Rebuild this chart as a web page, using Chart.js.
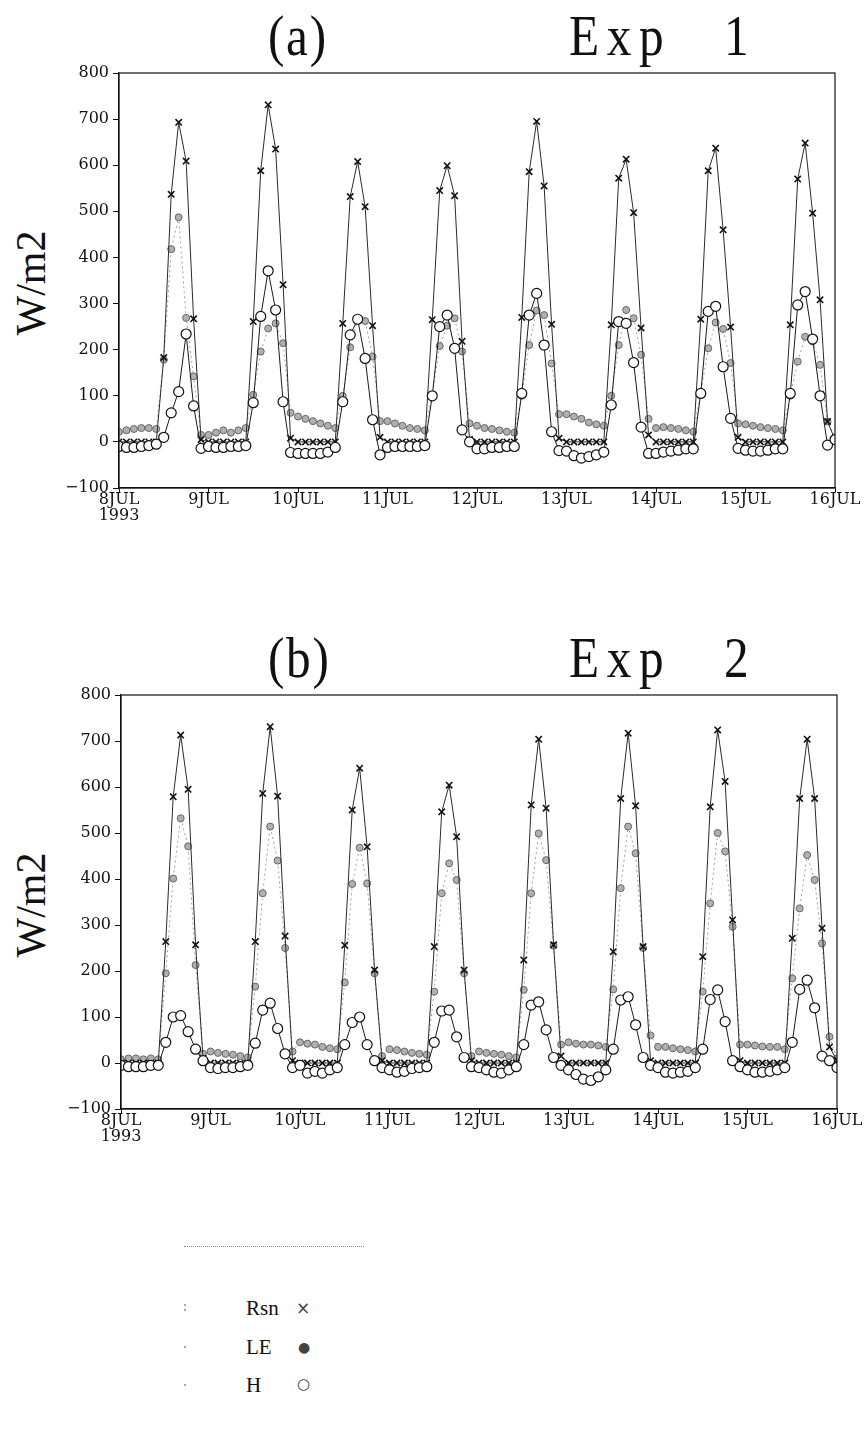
<!DOCTYPE html>
<html>
<head>
<meta charset="utf-8">
<script src="https://cdn.jsdelivr.net/npm/chart.js@4/dist/chart.umd.min.js"></script>
<style>
  html, body { margin: 0; padding: 0; background: #fff; }
  body { width: 868px; height: 1449px; position: relative; overflow: hidden; }
  .panel { position: absolute; left: 0; width: 868px; height: 560px; }
  .ttl { position: absolute; font-family: "Liberation Serif", serif; font-size: 58px; line-height: 1; color: #111; white-space: pre; letter-spacing: 9px; transform: scaleX(0.85); transform-origin: left top; }
  .ylab { position: absolute; font-family: "Liberation Serif", serif; font-size: 42px; line-height: 1; color: #111; white-space: nowrap; transform: translate(-50%, -50%) rotate(-90deg); }
  .leg { position: absolute; font-family: "Liberation Serif", serif; font-size: 21px; line-height: 1; color: #111; white-space: nowrap; }
  .mk { position: absolute; font-family: "DejaVu Sans", sans-serif; line-height: 1; white-space: nowrap; }
  .dot { position: absolute; width: 2px; height: 2px; background: #aaa; }
</style>
</head>
<body>

<div class="ttl" style="left:268px; top:7px; letter-spacing:2px;">(a)</div>
<div class="ttl" style="left:569px; top:7px;">Exp</div>
<div class="ttl" style="left:724px; top:7px;">1</div>
<div class="ylab" style="left:31px; top:283px;">W/m2</div>
<canvas id="chartA" class="panel" width="868" height="560" style="top:0px;"></canvas>

<div class="ttl" style="left:268px; top:629px; letter-spacing:2px;">(b)</div>
<div class="ttl" style="left:569px; top:629px;">Exp</div>
<div class="ttl" style="left:724px; top:629px;">2</div>
<div class="ylab" style="left:31px; top:905px;">W/m2</div>
<canvas id="chartB" class="panel" width="868" height="560" style="top:620px;"></canvas>

<!-- legend -->
<div style="position:absolute; left:184px; top:1246px; width:180px; border-top:1px dotted #888;"></div>
<div class="dot" style="left:184px; top:1304px;"></div>
<div class="dot" style="left:184px; top:1309px;"></div>
<div class="dot" style="left:184px; top:1346px;"></div>
<div class="dot" style="left:184px; top:1384px;"></div>
<div class="leg" style="left:246px; top:1298px;">Rsn</div>
<div class="mk" style="left:296px; top:1300px; font-size:17px; color:#444;">×</div>
<div class="leg" style="left:246px; top:1337px;">LE</div>
<div class="mk" style="left:298px; top:1340px; font-size:14px; color:#444;">●</div>
<div class="leg" style="left:246px; top:1375px;">H</div>
<div class="mk" style="left:297px; top:1377px; font-size:15px; color:#333;">○</div>

<script>
// Time axis: 2-hourly values from 8 JUL 00h to 16 JUL 00h, 1993
const dayLabels = ['8JUL', '9JUL', '10JUL', '11JUL', '12JUL', '13JUL', '14JUL', '15JUL', '16JUL'];
const yearLabel = '1993';
const stepHours = 2;

// Exp 1 : net shortwave (Rsn), latent (LE) and sensible (H) heat flux, W/m2
const rsnExp1 = [
  0, 0, 0, 0, 0, 0, 183, 537, 693, 609, 267, 5,
  0, 0, 0, 0, 0, 0, 261, 588, 731, 635, 341, 8,
  0, 0, 0, 0, 0, 0, 257, 532, 608, 510, 252, 10,
  0, 0, 0, 0, 0, 0, 265, 545, 599, 534, 218, 5,
  0, 0, 0, 0, 0, 0, 270, 586, 695, 555, 255, 8,
  0, 0, 0, 0, 0, 0, 254, 572, 613, 497, 247, 15,
  0, 0, 0, 0, 0, 0, 266, 588, 637, 460, 249, 10,
  0, 0, 0, 0, 0, 0, 254, 570, 648, 496, 308, 44,
  5
];
const leExp1 = [
  22, 25, 28, 30, 30, 28, 178, 418, 487, 269, 142, 15,
  15, 20, 25, 20, 25, 30, 102, 196, 246, 257, 214, 63,
  55, 50, 45, 40, 35, 30, 100, 205, 265, 262, 185, 45,
  45, 40, 35, 30, 28, 25, 102, 208, 252, 268, 196, 40,
  35, 30, 28, 25, 22, 20, 100, 210, 285, 275, 170, 60,
  60, 55, 50, 42, 38, 35, 100, 210, 286, 268, 189, 50,
  30, 32, 30, 28, 25, 22, 105, 203, 259, 245, 171, 40,
  38, 35, 32, 30, 28, 25, 100, 174, 228, 218, 167, 44,
  10
];
const hExp1 = [
  -10, -12, -12, -10, -8, -5, 10, 63, 109, 234, 78, -14,
  -10, -12, -12, -10, -10, -8, 85, 272, 371, 286, 87, -23,
  -25, -25, -25, -25, -22, -12, 87, 232, 266, 181, 48, -28,
  -12, -10, -10, -10, -10, -8, 100, 250, 275, 203, 26, 0,
  -15, -15, -12, -12, -10, -10, 105, 275, 322, 210, 22, -19,
  -20, -30, -35, -32, -28, -22, 80, 261, 257, 172, 32, -25,
  -25, -22, -20, -18, -15, -15, 105, 283, 294, 163, 51, -14,
  -18, -20, -20, -18, -15, -15, 105, 297, 326, 223, 100, -7,
  5
];

// Exp 2
const rsnExp2 = [
  0, 0, 0, 0, 0, 0, 264, 579, 713, 595, 257, 10,
  0, 0, 0, 0, 0, 0, 264, 586, 731, 580, 276, 5,
  0, 0, 0, 0, 0, 0, 256, 550, 641, 470, 202, 5,
  0, 0, 0, 0, 0, 0, 253, 546, 604, 492, 202, 5,
  0, 0, 0, 0, 0, 0, 224, 561, 704, 554, 257, 15,
  0, 0, 0, 0, 0, 0, 242, 575, 717, 559, 253, 5,
  0, 0, 0, 0, 0, 0, 231, 557, 724, 612, 311, 5,
  0, 0, 0, 0, 0, 0, 271, 575, 704, 575, 293, 35,
  5
];
const leExp2 = [
  8, 10, 10, 8, 10, 8, 195, 401, 532, 471, 213, 20,
  25, 22, 20, 18, 15, 12, 166, 369, 514, 440, 250, 25,
  45, 42, 40, 35, 32, 30, 175, 389, 468, 390, 195, 15,
  30, 28, 25, 22, 20, 18, 155, 369, 434, 398, 195, 15,
  25, 22, 20, 18, 15, 12, 159, 369, 499, 441, 255, 40,
  45, 42, 40, 40, 38, 35, 160, 380, 514, 456, 250, 60,
  35, 35, 32, 30, 28, 25, 155, 347, 500, 460, 296, 40,
  40, 38, 36, 35, 35, 30, 184, 336, 452, 398, 260, 57,
  10
];
const hExp2 = [
  -5, -8, -8, -8, -5, -5, 45, 100, 103, 68, 30, 5,
  -10, -12, -10, -10, -8, -5, 43, 115, 130, 75, 20, -10,
  -5, -22, -18, -22, -15, -10, 40, 88, 100, 40, 5, -10,
  -15, -20, -18, -12, -10, -8, 45, 113, 115, 57, 12, -8,
  -10, -15, -20, -22, -15, -8, 40, 126, 133, 72, 12, -5,
  -15, -25, -35, -38, -30, -15, 30, 137, 144, 83, 12, -5,
  -10, -20, -22, -20, -18, -10, 30, 138, 159, 90, 5, -8,
  -15, -20, -20, -18, -15, -10, 45, 160, 180, 120, 15, 5,
  -10
];

const yMin = -100, yMax = 800, yStep = 100;

function toPoints(values) {
  return values.map((v, i) => ({ x: i * stepHours, y: v }));
}

// thin black frame around the plotting area
const framePlugin = {
  id: 'frame',
  afterDatasetsDraw(chart) {
    const { ctx, chartArea: a } = chart;
    ctx.save();
    ctx.strokeStyle = '#111';
    ctx.lineWidth = 1.2;
    ctx.strokeRect(a.left, a.top, a.right - a.left, a.bottom - a.top);
    ctx.restore();
  }
};

const tickFont = { family: '"DejaVu Serif", serif', size: 16, lineHeight: 1.05 };

function makeChart(id, rsn, le, h, box) {
  const hoursMax = (rsn.length - 1) * stepHours;
  return new Chart(document.getElementById(id), {
    type: 'line',
    data: {
      datasets: [
        {
          label: 'H',
          data: toPoints(h),
          borderColor: '#1a1a1a',
          borderWidth: 1,
          pointStyle: 'circle',
          pointRadius: 5,
          pointBackgroundColor: '#fff',
          pointBorderColor: '#111',
          pointBorderWidth: 1.2,
          tension: 0,
          order: 1
        },
        {
          label: 'Rsn',
          data: toPoints(rsn),
          borderColor: '#2a2a2a',
          borderWidth: 1,
          pointStyle: 'crossRot',
          pointRadius: 4.5,
          pointBorderColor: '#111',
          pointBorderWidth: 1.6,
          tension: 0,
          order: 2
        },
        {
          label: 'LE',
          data: toPoints(le),
          borderColor: '#a0a0a0',
          borderWidth: 1,
          borderDash: [2, 3],
          pointStyle: 'circle',
          pointRadius: 3.5,
          pointBackgroundColor: '#b0b0b0',
          pointBorderColor: '#666',
          pointBorderWidth: 1,
          tension: 0,
          order: 3
        }
      ]
    },
    options: {
      responsive: false,
      animation: false,
      events: [],
      layout: { padding: { top: box.top, right: 868 - box.right, left: 0, bottom: 0 } },
      plugins: { legend: { display: false }, tooltip: { enabled: false }, title: { display: false } },
      scales: {
        x: {
          type: 'linear',
          min: 0,
          max: hoursMax,
          afterFit(scale) { scale.height = 560 - box.bottom; },
          afterBuildTicks(scale) {
            scale.ticks = dayLabels.map((_, i) => ({ value: i * 24 }));
          },
          ticks: {
            color: '#111',
            font: tickFont,
            padding: -1,
            maxRotation: 0,
            autoSkip: false,
            callback(value) {
              const i = Math.round(value / 24);
              return i === 0 ? [dayLabels[0], yearLabel] : dayLabels[i];
            }
          },
          grid: { drawOnChartArea: false, drawTicks: true, tickLength: 4, color: '#111' },
          border: { display: true, color: '#111', width: 1.2 }
        },
        y: {
          min: yMin,
          max: yMax,
          afterFit(scale) { scale.width = box.left; },
          ticks: {
            stepSize: yStep,
            color: '#111',
            font: tickFont,
            padding: 4,
            callback(value) { return value < 0 ? '\u2212' + Math.abs(value) : String(value); }
          },
          grid: { drawOnChartArea: false, drawTicks: true, tickLength: 6, color: '#111' },
          border: { display: true, color: '#111', width: 1.2 }
        }
      }
    },
    plugins: [framePlugin]
  });
}

makeChart('chartA', rsnExp1, leExp1, hExp1, { left: 119, right: 835, top: 73, bottom: 488 });
makeChart('chartB', rsnExp2, leExp2, hExp2, { left: 121, right: 837, top: 75, bottom: 489 });
</script>
</body>
</html>
